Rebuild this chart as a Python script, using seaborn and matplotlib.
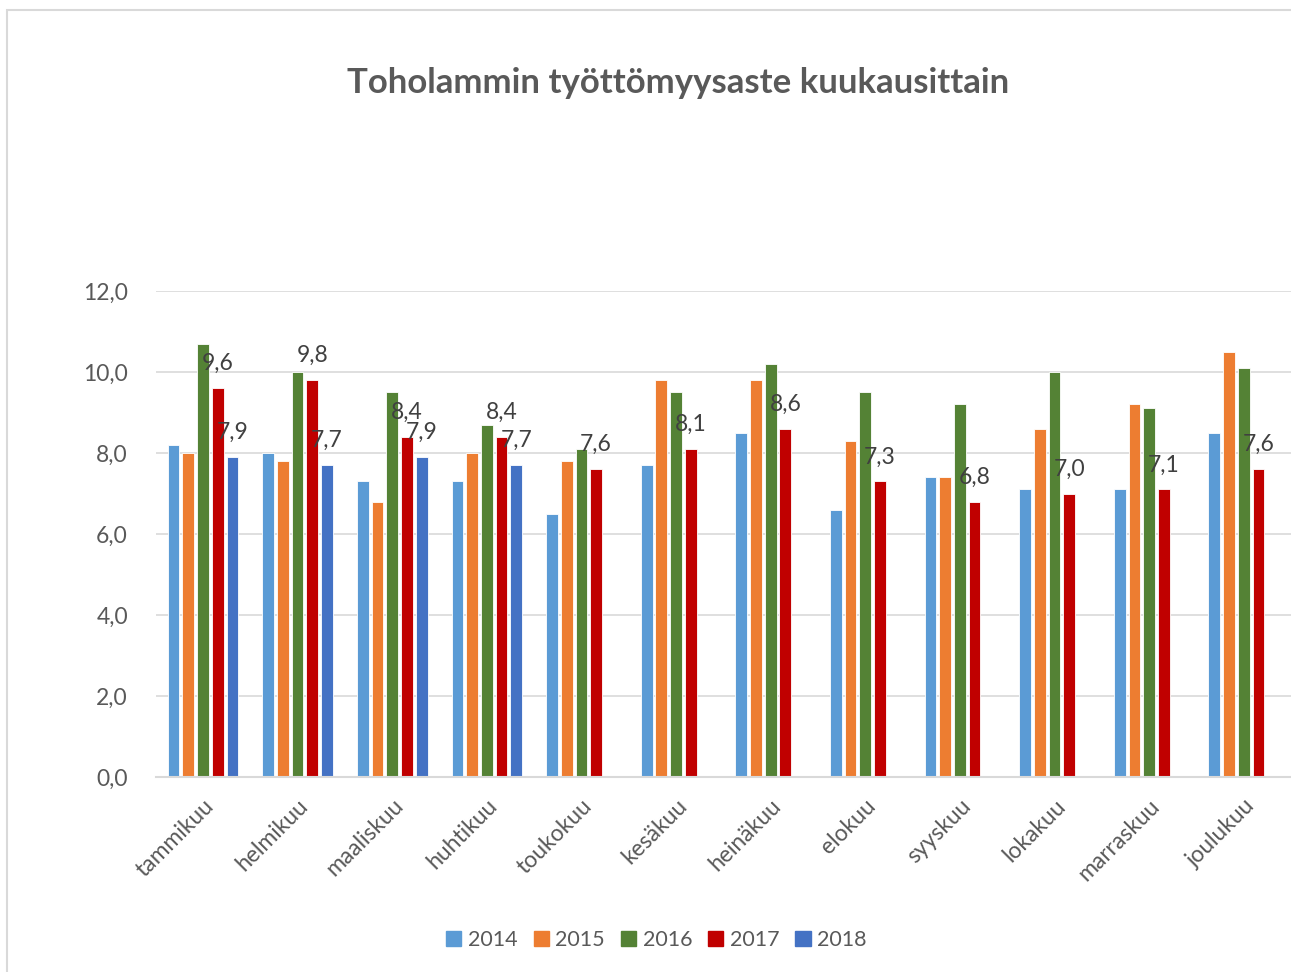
import matplotlib
matplotlib.use("Agg")
import matplotlib.pyplot as plt
import matplotlib.patches as mpatches
import seaborn as sns
import pandas as pd
import numpy as np

months = ["tammikuu", "helmikuu", "maaliskuu", "huhtikuu", "toukokuu", "kesäkuu",
          "heinäkuu", "elokuu", "syyskuu", "lokakuu", "marraskuu", "joulukuu"]
years = ["2014", "2015", "2016", "2017", "2018"]
v2014 = [8.2, 8.0, 7.3, 7.3, 6.5, 7.7, 8.5, 6.6, 7.4, 7.1, 7.1, 8.5]
v2015 = [8.0, 7.8, 6.8, 8.0, 7.8, 9.8, 9.8, 8.3, 7.4, 8.6, 9.2, 10.5]
v2016 = [10.7, 10.0, 9.5, 8.7, 8.1, 9.5, 10.2, 9.5, 9.2, 10.0, 9.1, 10.1]
v2017 = [9.6, 9.8, 8.4, 8.4, 7.6, 8.1, 8.6, 7.3, 6.8, 7.0, 7.1, 7.6]
v2018 = [7.9, 7.7, 7.9, 7.7, None, None, None, None, None, None, None, None]
colors = ["#5B9BD5", "#ED7D31", "#548235", "#C00000", "#4472C4"]
labelled_years = ["2017", "2018"]

series = [v2014, v2015, v2016, v2017, v2018]
rows = []
for y, vals in zip(years, series):
    for m, v in zip(months, vals):
        rows.append({"month": m, "year": y, "value": np.nan if v is None else v})
df = pd.DataFrame(rows)

sns.set_theme(style="white")
plt.rcParams["font.family"] = ["Lato", "DejaVu Sans"]

fig = plt.figure(figsize=(12.91, 9.72), dpi=100)
ax = fig.add_axes([0.1206, 0.2006, 0.8794, 0.5])

sns.barplot(data=df, x="month", y="value", hue="year", order=months, hue_order=years,
            palette=colors, saturation=1, width=0.777, gap=0.2, dodge=True, errorbar=None,
            edgecolor="white", linewidth=0.6, ax=ax, legend=False)

ax.set_ylim(0, 12)
ax.set_xlim(-0.5, len(months) - 0.5)
ax.set_yticks(np.arange(0, 12.1, 2))
ax.set_yticklabels([f"{t:.1f}".replace(".", ",") for t in np.arange(0, 12.1, 2)])
ax.yaxis.grid(True, color="#D9D9D9", linewidth=1.2)
ax.set_axisbelow(True)
for s in ["left", "right", "top"]:
    ax.spines[s].set_visible(False)
ax.spines["bottom"].set_color("#D9D9D9")
ax.spines["bottom"].set_linewidth(1.5)
ax.set_xlabel("")
ax.set_ylabel("")
ax.tick_params(axis="y", length=0, pad=20, labelsize=16.5, labelcolor="#595959")
ax.tick_params(axis="x", length=0, pad=13, labelsize=16.5, labelcolor="#595959")
for lab in ax.get_xticklabels():
    lab.set_rotation(45)
    lab.set_ha("right")
    lab.set_rotation_mode("anchor")

# data labels on 2017 and 2018
for cont, y in zip(ax.containers, years):
    if y in labelled_years:
        labels = ["" if np.isnan(b.get_height()) else f"{b.get_height():.1f}".replace(".", ",")
                  for b in cont]
        ax.bar_label(cont, labels=labels, padding=10, fontsize=16.5, color="#404040")

fig.text(0.5256, 0.915, "Toholammin työttömyysaste kuukausittain", ha="center", va="center",
         fontsize=25, fontweight="bold", color="#595959")

handles = [mpatches.Patch(color=c, label=y) for c, y in zip(colors, years)]
fig.legend(handles=handles, loc="center", bbox_to_anchor=(0.5085, 0.033), ncol=5,
           frameon=False, fontsize=15.5, handlelength=0.7, handleheight=0.7,
           handletextpad=0.3, columnspacing=0.75, labelcolor="#595959")

# outer chart border
border = mpatches.Rectangle((7 / 1291, -0.05), 1.2, 1 - 10 / 972 + 0.05,
                            transform=fig.transFigure, fill=False,
                            edgecolor="#D9D9D9", linewidth=1.5)
fig.patches.append(border)

fig.savefig("out.png", dpi=100)
